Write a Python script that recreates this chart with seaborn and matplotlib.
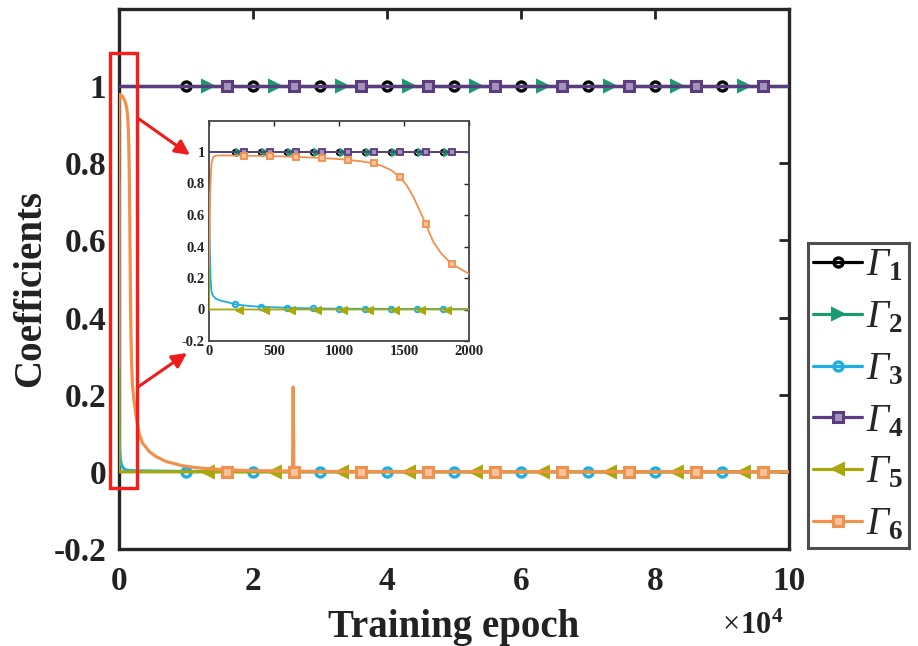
import matplotlib
matplotlib.use("Agg")
import matplotlib.pyplot as plt
import seaborn as sns
from matplotlib.lines import Line2D
from matplotlib.patches import Rectangle, FancyArrowPatch

# ---------------- data ----------------
labels = [r"$Γ_{\mathbf{1}}$", r"$Γ_{\mathbf{2}}$", r"$Γ_{\mathbf{3}}$",
          r"$Γ_{\mathbf{4}}$", r"$Γ_{\mathbf{5}}$", r"$Γ_{\mathbf{6}}$"]
colors = ["#000000", "#1a9a70", "#1eaee0", "#5b3c80", "#a8a80a", "#f0914d"]

const_epoch = [0, 100000]
g1_value = [1.0, 1.0]
g2_value = [1.0, 1.0]
g4_value = [1.0, 1.0]

g3_epoch = [0, 4, 8, 12, 18, 28, 54, 90, 143, 200, 300, 400, 600, 800, 1000, 1400,
            2000, 5000, 10000, 30000, 100000]
g3_value = [0.75, 0.55, 0.35, 0.2, 0.12, 0.09, 0.068, 0.056, 0.046, 0.033, 0.023, 0.017,
            0.011, 0.007, 0.005, 0.004, 0.003, 0.002, 0.001, 0.0005, 0.0]

g5_epoch = [0, 2, 100000]
g5_value = [0.27, 0.0, 0.0]

g6_epoch = [0, 5, 10, 15, 20, 30, 45, 70, 150, 266, 466, 666, 866, 1000, 1066, 1170,
            1266, 1330, 1400, 1466, 1520, 1573, 1620, 1666, 1725, 1787, 1866, 1963, 2000,
            2200, 2500, 3000, 3500, 4500, 5500, 7000, 9400, 11000, 13400, 16100, 20000,
            25900, 26000, 26100, 30000, 50000, 100000]
g6_value = [0.27, 0.55, 0.75, 0.87, 0.93, 0.965, 0.975, 0.978, 0.978, 0.976, 0.975, 0.969,
            0.962, 0.955, 0.95, 0.941, 0.928, 0.912, 0.885, 0.843, 0.79, 0.714, 0.63,
            0.545, 0.43, 0.355, 0.29, 0.244, 0.227, 0.19, 0.15, 0.1, 0.075, 0.053, 0.04,
            0.027, 0.016, 0.012, 0.008, 0.005, 0.003, 0.002, 0.22, 0.002, 0.001, 0.0005, 0.0]

# marker positions, main plot
mark_circ = [10000, 20000, 30000, 40000, 50000, 60000, 70000, 80000, 90000]
mark_tri = [13300, 23300, 33300, 43300, 53300, 63300, 73300, 83300, 93300]
mark_sq = [16100, 26100, 36100, 46100, 56100, 66100, 76100, 86100, 96100]
mark_top = [1, 1, 1, 1, 1, 1, 1, 1, 1]
mark_bot = [0, 0, 0, 0, 0, 0, 0, 0, 0]

# marker positions, inset
in_circ = [200, 400, 600, 800, 1000, 1200, 1400, 1600, 1800]
in_tri = [233, 433, 633, 833, 1033, 1233, 1433, 1633, 1833]
in_sq = [266, 466, 666, 866, 1066, 1266, 1466, 1666, 1866]
in_g3_value = [0.033, 0.017, 0.011, 0.007, 0.005, 0.0045, 0.004, 0.0035, 0.003]
in_g6_value = [0.976, 0.975, 0.969, 0.962, 0.95, 0.928, 0.843, 0.545, 0.29]

xtick_main = [0, 20000, 40000, 60000, 80000, 100000]
xtick_main_lab = ["0", "2", "4", "6", "8", "10"]
ytick = [-0.2, 0, 0.2, 0.4, 0.6, 0.8, 1]
ytick_lab = ["-0.2", "0", "0.2", "0.4", "0.6", "0.8", "1"]
xtick_in = [0, 500, 1000, 1500, 2000]

# ---------------- style ----------------
sns.set_style("white")
plt.rcParams["font.family"] = ["Liberation Serif", "DejaVu Serif"]
plt.rcParams["font.weight"] = "bold"
plt.rcParams["mathtext.fontset"] = "custom"
plt.rcParams["mathtext.rm"] = "Liberation Serif:style=italic:weight=normal"
plt.rcParams["mathtext.it"] = "Liberation Serif:style=italic:weight=normal"
plt.rcParams["mathtext.bf"] = "Liberation Serif:style=normal:weight=bold"

W, H = 918, 646
fig = plt.figure(figsize=(W / 100, H / 100), dpi=100)
fig.patch.set_facecolor("white")

def fx(px):
    return px / W

def fy(py):
    return 1 - py / H

ax = fig.add_axes([fx(119), fy(549), 670 / W, 540 / H])
axi = fig.add_axes([fx(209), fy(341), 260 / W, 220.5 / H])

def light(c, f=0.45):
    import matplotlib.colors as mc
    r, g, b = mc.to_rgb(c)
    return (r + (1 - r) * f, g + (1 - g) * f, b + (1 - b) * f)

lines = [
    (const_epoch, g1_value),
    (const_epoch, g2_value),
    (g3_epoch, g3_value),
    (const_epoch, g4_value),
    (g5_epoch, g5_value),
    (g6_epoch, g6_value),
]
main_marks = [
    (mark_circ, mark_top, "o"),
    (mark_tri, mark_top, ">"),
    (mark_circ, mark_bot, "o"),
    (mark_sq, mark_top, "s"),
    (mark_tri, mark_bot, "<"),
    (mark_sq, mark_bot, "s"),
]
inset_marks = [
    (in_circ, mark_top, "o"),
    (in_tri, mark_top, ">"),
    (in_circ, in_g3_value, "o"),
    (in_sq, mark_top, "s"),
    (in_tri, mark_bot, "<"),
    (in_sq, in_g6_value, "s"),
]

def mstyle(m, c, scale):
    if m == "o":
        return dict(marker="o", markersize=6.5 * scale, markeredgewidth=2.4 * scale,
                    markerfacecolor="none", markeredgecolor=c)
    if m in ("<", ">"):
        return dict(marker=m, markersize=8.8 * scale, markeredgewidth=1.4 * scale,
                    markerfacecolor=c, markeredgecolor=c)
    return dict(marker="s", markersize=6.8 * scale, markeredgewidth=2.2 * scale,
                markerfacecolor=light(c), markeredgecolor=c)

for i, ((ex, ev), (mx, my, m), (ix, iy, im)) in enumerate(zip(lines, main_marks, inset_marks)):
    c = colors[i]
    z = 3 + i
    sns.lineplot(x=ex, y=ev, ax=ax, color=c, linewidth=2.3, estimator=None, sort=False,
                 legend=False, zorder=z)
    ax.plot(mx, my, linestyle="none", zorder=z + 0.5, **mstyle(m, c, 1.0))
    sns.lineplot(x=ex, y=ev, ax=axi, color=c, linewidth=1.3, estimator=None, sort=False,
                 legend=False, zorder=z)
    axi.plot(ix, iy, linestyle="none", zorder=z + 0.5, **mstyle(m, c, 0.6))

# ---------------- main axes ----------------
ax.set_xlim(0, 100000)
ax.set_ylim(-0.2, 1.2)
ax.set_xticks(xtick_main)
ax.set_xticklabels(xtick_main_lab)
ax.set_yticks(ytick)
ax.set_yticklabels(ytick_lab)
ax.tick_params(direction="in", length=7, width=2, labelsize=24, pad=12,
               top=True, right=True, colors="#222222")
ax.tick_params(axis="y", pad=9)
for lab in ax.get_xticklabels() + ax.get_yticklabels():
    lab.set_fontweight("bold")
    lab.set_color("#222222")
for s in ax.spines.values():
    s.set_linewidth(2.4)
    s.set_color("#262626")
ax.set_xlabel("Training epoch", fontsize=28, fontweight="bold", color="#222222")
ax.set_ylabel("Coefficients", fontsize=28, fontweight="bold", color="#222222")
ax.xaxis.set_label_coords(0.5, -0.112)
ax.yaxis.set_label_coords(-0.105, 0.483)
fig.text(fx(752), fy(626), r"$\times\mathbf{10}^{\mathbf{4}}$", fontsize=22,
         ha="center", va="center", color="#222222")

# red zoom box and arrows
ax.add_patch(Rectangle((-1343, -0.041), 1343 + 2731, 1.085 + 0.041, fill=False,
                       edgecolor="#ff1a1a", linewidth=2.4, clip_on=False, zorder=20))
for (x0, y0), (x1, y1) in [((139, 119), (190, 155)), ((138, 387), (187, 353))]:
    fig.add_artist(FancyArrowPatch(
        (fx(x0), fy(y0)), (fx(x1), fy(y1)), transform=fig.transFigure,
        arrowstyle="-|>", mutation_scale=22, color="#ee1c1c", linewidth=2.2,
        shrinkA=0, shrinkB=0, zorder=30))

# ---------------- inset ----------------
axi.set_xlim(0, 2000)
axi.set_ylim(-0.2, 1.2)
axi.set_xticks(xtick_in)
axi.set_yticks(ytick)
axi.set_yticklabels(ytick_lab)
axi.tick_params(direction="in", length=3.5, width=1, labelsize=10.5, pad=3,
                top=True, right=True, colors="#222222")
for lab in axi.get_xticklabels() + axi.get_yticklabels():
    lab.set_fontweight("bold")
for s in axi.spines.values():
    s.set_linewidth(1.3)
    s.set_color("#444444")
axi.set_xlabel("")
axi.set_ylabel("")
axi.set_facecolor("white")

# ---------------- legend ----------------
handles = []
for i, (mx, my, m) in enumerate(main_marks):
    handles.append(Line2D([], [], color=colors[i], linewidth=2.3, **mstyle(m, colors[i], 1.0)))
leg = fig.legend(handles, labels, loc="upper left", bbox_to_anchor=(fx(808), fy(243)),
                 borderaxespad=0, frameon=True, fancybox=False, fontsize=28,
                 handlelength=1.28, handletextpad=0.1, borderpad=0.12, labelspacing=0.38)
leg.get_frame().set_edgecolor("#222222")
leg.get_frame().set_linewidth(2.2)

fig.savefig("out.png", dpi=100, facecolor="white")
